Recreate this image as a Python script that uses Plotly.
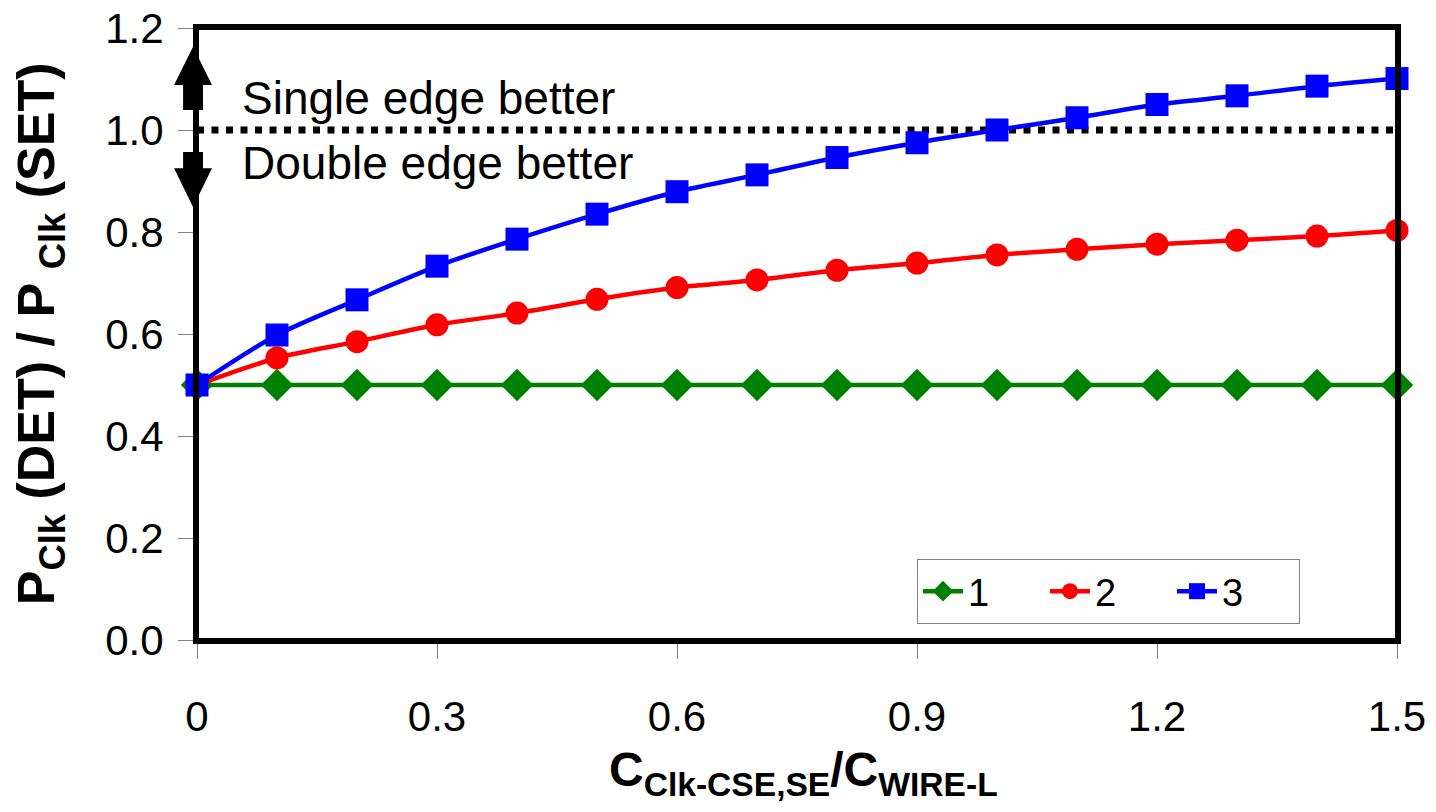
import plotly.graph_objects as go

# ---- data ----
x_vals = [0, 0.1, 0.2, 0.3, 0.4, 0.5, 0.6, 0.7, 0.8, 0.9, 1.0, 1.1, 1.2, 1.3, 1.4, 1.5]
series_1 = [0.5] * 16
series_2 = [0.5, 0.553, 0.585, 0.618, 0.641, 0.668, 0.691, 0.706, 0.725, 0.739,
            0.755, 0.766, 0.776, 0.784, 0.792, 0.803]
series_3 = [0.5, 0.598, 0.667, 0.733, 0.786, 0.835, 0.879, 0.912, 0.946, 0.975,
            1.0, 1.024, 1.050, 1.067, 1.086, 1.101]
series_names = ["1", "2", "3"]
x_ticks = [0, 0.3, 0.6, 0.9, 1.2, 1.5]
x_tick_text = ["0", "0.3", "0.6", "0.9", "1.2", "1.5"]
y_ticks = [0, 0.2, 0.4, 0.6, 0.8, 1.0, 1.2]
Y_MAX = 1.2

FONT = "Liberation Sans, Arial, sans-serif"

fig = go.Figure()
styles = [
    ("#008000", "diamond", 25),
    ("#FF0000", "circle", 23),
    ("#0000FF", "square", 23),
]
for name, ys, (col, sym, sz) in zip(series_names, [series_1, series_2, series_3], styles):
    fig.add_trace(go.Scatter(
        x=x_vals, y=ys, name=name, mode="lines+markers",
        line=dict(color=col, width=4.5, shape="spline", smoothing=0.8),
        marker=dict(color=col, symbol=sym, size=sz, line=dict(width=0)),
        cliponaxis=False,
    ))

# reference line at ratio = 1
fig.add_shape(type="line", xref="x", yref="y", x0=0, x1=1.5, y0=1.0, y1=1.0,
              line=dict(color="black", width=7, dash="7px,7.5px"), layer="below")

# plot frame
fig.add_shape(type="rect", xref="paper", yref="paper", x0=0, x1=1, y0=0, y1=1,
              line=dict(color="black", width=4), fillcolor="rgba(0,0,0,0)",
              layer="above")

# double arrows (decorations, paper coords so they are not clipped)
def py(v):
    return v / Y_MAX

cx, sw, hw = -0.0033, 0.0083, 0.0158
up = (f"M{cx-sw},{py(1.039)} L{cx-sw},{py(1.088)} L{cx-hw},{py(1.088)} L{cx},{py(1.163)} "
      f"L{cx+hw},{py(1.088)} L{cx+sw},{py(1.088)} L{cx+sw},{py(1.039)} Z")
down = (f"M{cx-sw},{py(0.957)} L{cx-sw},{py(0.925)} L{cx-hw},{py(0.925)} L{cx},{py(0.849)} "
        f"L{cx+hw},{py(0.925)} L{cx+sw},{py(0.925)} L{cx+sw},{py(0.957)} Z")
for p in (up, down):
    fig.add_shape(type="path", xref="paper", yref="paper", path=p,
                  fillcolor="black", line=dict(color="black", width=0), layer="above")

fig.add_annotation(x=0.054, y=1.063, xref="x", yref="y", text="Single edge better",
                   showarrow=False, xanchor="left", yanchor="middle",
                   font=dict(family=FONT, size=46, color="black"))
fig.add_annotation(x=0.054, y=0.935, xref="x", yref="y", text="Double edge better",
                   showarrow=False, xanchor="left", yanchor="middle",
                   font=dict(family=FONT, size=46, color="black"))

# axis titles
fig.add_annotation(x=-0.1306, y=0.5, xref="paper", yref="paper", textangle=-90,
                   text="<b>P<sub>Clk</sub> (DET) / P <sub>Clk</sub> (SET)</b>",
                   showarrow=False, xanchor="center", yanchor="middle",
                   font=dict(family=FONT, size=52, color="black"))
fig.add_annotation(x=0.505, y=-0.218, xref="paper", yref="paper",
                   text="<b>C<sub>Clk-CSE,SE</sub>/C<sub>WIRE-L</sub></b>",
                   showarrow=False, xanchor="center", yanchor="middle",
                   font=dict(family=FONT, size=48, color="black"))

# page body has an 8px margin, so the figure is made 16px smaller and the
# plot area is placed 8px up/left
fig.update_layout(
    width=1420, height=796,
    margin=dict(l=189, r=31, t=20, b=164, autoexpand=False),
    paper_bgcolor="white", plot_bgcolor="white",
    font=dict(family=FONT, color="black", size=40),
    showlegend=True,
    legend=dict(orientation="h", x=0.6, y=0.1324, xanchor="left", yanchor="top",
                bgcolor="white", bordercolor="#808080", borderwidth=1,
                font=dict(family=FONT, size=38, color="black"),
                entrywidth=72, entrywidthmode="pixels", itemwidth=40,
                tracegroupgap=0),
    xaxis=dict(range=[0, 1.5], tickvals=x_ticks, ticktext=x_tick_text,
               automargin=False, showgrid=False, zeroline=False,
               showline=True, linecolor="black", linewidth=4, mirror=True,
               ticks="outside", ticklen=15, tickwidth=1, tickcolor="#808080",
               ticklabelstandoff=22, ticklabeloverflow="allow",
               tickfont=dict(family=FONT, size=42, color="black")),
    yaxis=dict(range=[0, Y_MAX], tickvals=y_ticks, tickformat=".1f",
               automargin=False, showgrid=False, zeroline=False,
               showline=True, linecolor="black", linewidth=4, mirror=True,
               ticks="outside", ticklen=15, tickwidth=1, tickcolor="#808080",
               ticklabelstandoff=6, ticklabeloverflow="allow",
               tickfont=dict(family=FONT, size=42, color="black")),
    xaxis2=dict(overlaying="x", range=[0, 1.5], tickvals=x_ticks, side="bottom",
                automargin=False, showticklabels=False, showgrid=False,
                zeroline=False, showline=False,
                ticks="inside", ticklen=13, tickwidth=1, tickcolor="#808080"),
    yaxis2=dict(overlaying="y", range=[0, Y_MAX], tickvals=y_ticks, side="left",
                automargin=False, showticklabels=False, showgrid=False,
                zeroline=False, showline=False,
                ticks="inside", ticklen=13, tickwidth=1, tickcolor="#808080"),
)

fig.write_html("out.html")
